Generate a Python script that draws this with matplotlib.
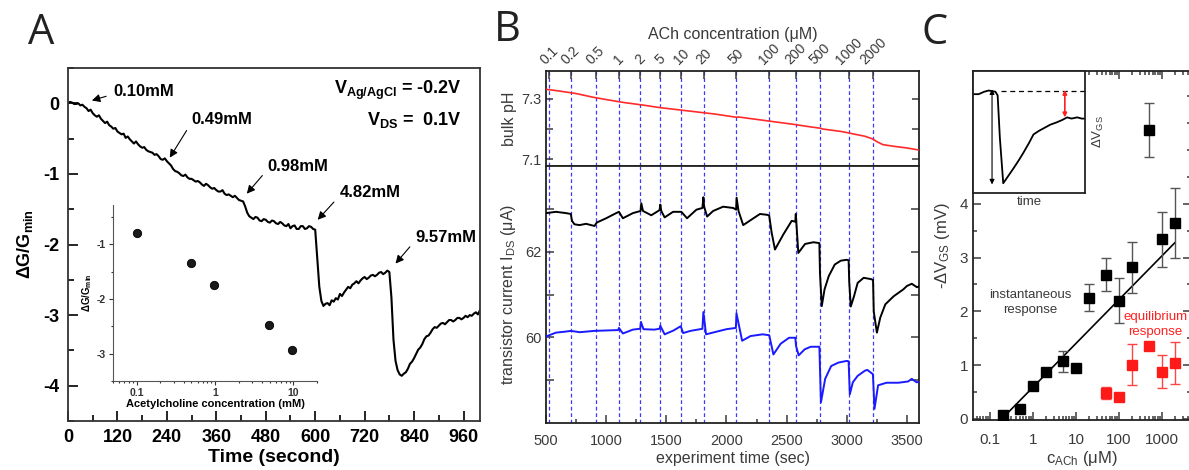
import numpy as np
import matplotlib
matplotlib.use('Agg')
import matplotlib.pyplot as plt
from matplotlib.ticker import MultipleLocator, FixedLocator, FixedFormatter, LogLocator, NullFormatter

plt.rcParams['font.family'] = ['Liberation Sans', 'DejaVu Sans']
plt.rcParams['axes.unicode_minus'] = False
plt.rcParams['mathtext.fontset'] = 'custom'
plt.rcParams['mathtext.rm'] = 'Liberation Sans'
plt.rcParams['mathtext.it'] = 'Liberation Sans:italic'
plt.rcParams['mathtext.bf'] = 'Liberation Sans:bold'

# ---------------- panel A data ----------------
time_a = np.arange(0, 1001, 5)
dg_a = [0.00, 0.02, 0.01, -0.01, -0.01, 0.00, -0.03, -0.02, -0.05, -0.07,
        -0.11, -0.09, -0.14, -0.17, -0.19, -0.17, -0.22, -0.25, -0.28, -0.26,
        -0.31, -0.33, -0.36, -0.35, -0.40, -0.42, -0.44, -0.43, -0.49, -0.47,
        -0.51, -0.54, -0.57, -0.54, -0.58, -0.61, -0.63, -0.62, -0.66, -0.68,
        -0.69, -0.70, -0.73, -0.72, -0.75, -0.79, -0.80, -0.78, -0.82, -0.85,
        -0.88, -0.93, -0.96, -0.97, -0.99, -1.02, -1.03, -1.01, -1.05, -1.07,
        -1.07, -1.09, -1.11, -1.10, -1.12, -1.15, -1.17, -1.14, -1.16, -1.19,
        -1.21, -1.20, -1.23, -1.25, -1.25, -1.23, -1.28, -1.30, -1.29, -1.31,
        -1.33, -1.31, -1.34, -1.37, -1.38, -1.39, -1.46, -1.55, -1.60, -1.62,
        -1.64, -1.61, -1.62, -1.66, -1.67, -1.64, -1.65, -1.68, -1.69, -1.66,
        -1.67, -1.70, -1.71, -1.68, -1.70, -1.73, -1.74, -1.71, -1.77, -1.74,
        -1.73, -1.78, -1.78, -1.74, -1.74, -1.78, -1.77, -1.74, -1.75, -1.78,
        -1.79, -2.20, -2.60, -2.80, -2.87, -2.84, -2.83, -2.86, -2.79, -2.81,
        -2.76, -2.78, -2.70, -2.73, -2.68, -2.64, -2.60, -2.62, -2.57, -2.55,
        -2.52, -2.55, -2.51, -2.48, -2.46, -2.49, -2.47, -2.44, -2.43, -2.45,
        -2.43, -2.40, -2.39, -2.42, -2.40, -2.37, -2.39, -2.75, -3.35, -3.65,
        -3.78, -3.84, -3.86, -3.83, -3.81, -3.76, -3.69, -3.66, -3.61, -3.55,
        -3.49, -3.46, -3.41, -3.34, -3.30, -3.29, -3.25, -3.20, -3.17, -3.18,
        -3.15, -3.12, -3.11, -3.13, -3.10, -3.07, -3.07, -3.09, -3.07, -3.04,
        -3.04, -3.06, -3.04, -3.01, -3.03, -3.00, -3.01, -2.98, -2.96, -2.99,
        -2.93]

arrow_labels = ['0.10mM', '0.49mM', '0.98mM', '4.82mM', '9.57mM']
arrow_tip_t = [58, 247, 434, 606, 795]
arrow_tip_v = [0.04, -0.77, -1.28, -1.65, -2.27]
arrow_txt_t = [109, 300, 485, 659, 843]
arrow_txt_v = [0.17, -0.23, -0.89, -1.27, -1.90]

inset_conc = [0.10, 0.49, 0.98, 4.82, 9.57]
inset_dg = [-0.80, -1.35, -1.75, -2.47, -2.93]

# ---------------- panel B data ----------------
add_times = [525, 705, 915, 1105, 1285, 1450, 1625, 1810, 2080, 2355, 2575, 2775, 3015, 3220]
conc_labels = ['0.1', '0.2', '0.5', '1', '2', '5', '10', '20', '50', '100', '200', '500', '1000', '2000']

ph_t = [500, 600, 750, 900, 1000, 1150, 1300, 1450, 1600, 1750, 1900, 2050, 2085, 2100, 2250,
        2400, 2550, 2700, 2775, 2800, 2950, 3015, 3050, 3150, 3215, 3250, 3300, 3400, 3500, 3600]
ph_v = [7.332, 7.327, 7.318, 7.305, 7.298, 7.288, 7.280, 7.271, 7.264, 7.257, 7.250, 7.241, 7.239, 7.240, 7.232,
        7.224, 7.216, 7.207, 7.203, 7.200, 7.192, 7.187, 7.184, 7.176, 7.167, 7.158, 7.148, 7.142, 7.137, 7.130]

blk_t = [500, 583, 667, 706, 716, 736, 778, 833, 903, 922,
         1000, 1083, 1106, 1139, 1222, 1286, 1292, 1306, 1375, 1444,
         1450, 1458, 1486, 1556, 1625, 1672, 1750, 1800, 1808, 1814,
         1839, 1889, 1972, 2056, 2080, 2084, 2100, 2139, 2208, 2278,
         2340, 2355, 2375, 2403, 2472, 2542, 2572, 2576, 2597, 2653,
         2722, 2772, 2777, 2792, 2815, 2850, 2900, 2950, 3000, 3015,
         3020, 3033, 3060, 3090, 3140, 3200, 3218, 3224, 3250, 3278,
         3320, 3390, 3470, 3500, 3540, 3583, 3600]
blk_v = [62.90, 62.93, 62.90, 62.88, 62.72, 62.64, 62.62, 62.65, 62.60, 62.68,
         62.78, 62.90, 62.93, 62.78, 62.90, 62.95, 63.13, 62.95, 62.85, 62.97,
         63.10, 62.95, 62.80, 62.93, 62.93, 62.78, 62.98, 63.02, 63.27, 63.05,
         62.82, 62.95, 63.05, 63.02, 62.98, 63.26, 62.95, 62.62, 62.75, 62.88,
         62.86, 62.84, 62.45, 62.05, 62.40, 62.72, 62.70, 62.88, 61.97, 62.18,
         62.22, 62.20, 61.50, 60.73, 61.12, 61.43, 61.70, 61.79, 61.81, 61.80,
         61.30, 60.72, 60.96, 61.27, 61.39, 61.36, 61.34, 60.60, 60.11, 60.46,
         60.77, 60.96, 61.12, 61.20, 61.25, 61.17, 61.19]

blu_t = [500, 583, 650, 708, 780, 900, 1000, 1100, 1106, 1139,
         1222, 1283, 1289, 1310, 1400, 1444, 1450, 1486, 1560, 1620,
         1640, 1700, 1800, 1808, 1830, 1900, 2000, 2078, 2083, 2130,
         2200, 2300, 2355, 2390, 2450, 2520, 2572, 2578, 2600, 2650,
         2700, 2772, 2785, 2820, 2870, 2930, 3000, 3015, 3025, 3050,
         3090, 3150, 3170, 3217, 3230, 3260, 3330, 3430, 3510, 3540,
         3580, 3600]
blu_v = [60.02, 60.11, 60.13, 60.15, 60.12, 60.15, 60.16, 60.17, 60.22, 60.09,
         60.18, 60.20, 60.36, 60.19, 60.18, 60.20, 60.27, 60.07, 60.16, 60.26,
         60.10, 60.15, 60.20, 60.59, 60.07, 60.12, 60.19, 60.22, 60.56, 59.92,
         60.03, 60.07, 60.05, 59.60, 59.85, 59.99, 59.99, 59.80, 59.58, 59.72,
         59.78, 59.78, 58.48, 59.03, 59.33, 59.41, 59.45, 59.44, 58.67, 58.95,
         59.10, 59.22, 59.24, 59.14, 58.33, 58.88, 58.94, 58.94, 58.97, 59.03,
         58.95, 58.96]

# ---------------- panel C data ----------------
c_inst = [0.2, 0.5, 1, 2, 5, 10, 20, 50, 100, 200, 500, 1000, 2000]
v_inst = [0.08, 0.18, 0.61, 0.88, 1.07, 0.94, 2.25, 2.68, 2.20, 2.82, 5.38, 3.34, 3.65]
e_inst = [0.0, 0.0, 0.0, 0.0, 0.19, 0.0, 0.25, 0.31, 0.42, 0.47, 0.50, 0.51, 0.65]

c_eq = [50, 100, 200, 500, 1000, 2000]
v_eq = [0.48, 0.40, 1.01, 1.35, 0.88, 1.04]
e_eq = [0.11, 0.0, 0.38, 0.07, 0.31, 0.39]

fit_c = [0.25, 2000]
fit_v = [0.10, 3.28]

sketch_t = [0.00, 0.05, 0.10, 0.14, 0.20, 0.22, 0.24, 0.27, 0.30, 0.36, 0.41, 0.45,
            0.50, 0.54, 0.59, 0.63, 0.69, 0.75, 0.80, 0.84, 0.88, 0.93, 0.97, 1.00]
sketch_v = [0.81, 0.81, 0.83, 0.84, 0.83, 0.80, 0.45, 0.08, 0.12, 0.20, 0.27, 0.33,
            0.41, 0.48, 0.51, 0.53, 0.56, 0.58, 0.60, 0.62, 0.61, 0.62, 0.61, 0.61]

W, H = 1189, 470
fig = plt.figure(figsize=(W / 100, H / 100), dpi=100)


def box(l, t, r, b):
    return [l / W, 1 - b / H, (r - l) / W, (b - t) / H]


GRAY = '#3a3a3a'

# ================= panel A =================
axA = fig.add_axes(box(68, 68, 480, 421))
axA.plot(time_a, dg_a, color='black', lw=1.5)
axA.set_xlim(0, 1000)
axA.set_ylim(-4.5, 0.5)
axA.set_xticks(range(0, 961, 120))
axA.xaxis.set_minor_locator(MultipleLocator(60))
axA.set_yticks([0, -1, -2, -3, -4])
axA.yaxis.set_minor_locator(MultipleLocator(0.5))
axA.tick_params(which='both', direction='in', width=1.2, labelsize=13, pad=6)
axA.tick_params(which='major', length=7)
axA.tick_params(which='minor', length=4)
for lab in axA.get_xticklabels() + axA.get_yticklabels():
    lab.set_fontweight('bold')
for sp in axA.spines.values():
    sp.set_color('#333333')
    sp.set_linewidth(1.3)
axA.set_xlabel('Time (second)', fontsize=14, fontweight='bold')
axA.xaxis.set_label_coords(0.5, -0.078)
axA.set_ylabel('ΔG/G$_{\\mathbf{min}}$', fontsize=13, fontweight='bold')
axA.yaxis.set_label_coords(-0.08, 0.5)

for lab, tt, tv, xt, xv in zip(arrow_labels, arrow_tip_t, arrow_tip_v, arrow_txt_t, arrow_txt_v):
    axA.annotate(lab, xy=(tt, tv), xytext=(xt, xv), fontsize=12, fontweight='bold',
                 ha='left', va='center',
                 arrowprops=dict(arrowstyle='-|>', color='black', lw=0.8, mutation_scale=12,
                                 relpos=(0, 0.3), shrinkA=3, shrinkB=0))

axA.text(955, 0.18, '$\\mathbf{V_{Ag/AgCl}}$ = -0.2V', fontsize=13, fontweight='bold', ha='right', va='center')
axA.text(955, -0.23, '$\\mathbf{V_{DS}}$ =  0.1V', fontsize=13, fontweight='bold', ha='right', va='center')

# inset of A
axAi = fig.add_axes(box(113, 205, 317, 381))
axAi.patch.set_alpha(0)
axAi.plot(inset_conc, inset_dg, 'o', ms=6, mfc='#1a1a1a', mec='black', mew=0.6)
axAi.set_xscale('log')
axAi.set_xlim(0.05, 20)
axAi.set_ylim(-3.5, -0.28)
axAi.xaxis.set_major_locator(FixedLocator([0.1, 1, 10]))
axAi.xaxis.set_major_formatter(FixedFormatter(['0.1', '1', '10']))
axAi.xaxis.set_minor_locator(LogLocator(base=10, subs=np.arange(2, 10)))
axAi.xaxis.set_minor_formatter(NullFormatter())
axAi.set_yticks([-1, -2, -3])
axAi.yaxis.set_minor_locator(MultipleLocator(0.5))
axAi.tick_params(which='both', direction='out', width=0.8, labelsize=7.5, pad=2, colors='#333333')
axAi.tick_params(which='major', length=3)
axAi.tick_params(which='minor', length=1.5)
for lab in axAi.get_xticklabels() + axAi.get_yticklabels():
    lab.set_fontweight('bold')
axAi.spines['top'].set_visible(False)
axAi.spines['right'].set_visible(False)
for sp in ('left', 'bottom'):
    axAi.spines[sp].set_color('#555555')
    axAi.spines[sp].set_linewidth(0.8)
axAi.set_xlabel('Acetylcholine concentration (mM)', fontsize=8, fontweight='bold', labelpad=1)
axAi.set_ylabel('ΔG/G$_{\\mathbf{min}}$', fontsize=7, fontweight='bold', labelpad=2)

# ================= panel B =================
axBp = fig.add_axes(box(546, 71, 919, 166))
axBi = fig.add_axes(box(546, 166, 919, 423))
for ax in (axBp, axBi):
    for t in add_times:
        ax.axvline(t, color='#3b3bff', ls=(0, (3, 2.2)), lw=0.9, zorder=1)
    ax.set_xlim(500, 3600)
    for sp in ax.spines.values():
        sp.set_color('#222222')
        sp.set_linewidth(1.3)

axBp.plot(ph_t, ph_v, color='#ff2a2a', lw=1.2, zorder=3)
axBp.set_ylim(7.077, 7.393)
axBp.set_yticks([7.1, 7.2, 7.3])
axBp.set_yticklabels(['7.1', '', '7.3'])
axBp.xaxis.tick_top()
axBp.set_xticks(add_times)
axBp.set_xticklabels(conc_labels, rotation=45, ha='center', va='bottom')
axBp.tick_params(axis='x', direction='in', length=6, width=1.1, labelsize=10, pad=3, colors=GRAY)
axBp.tick_params(axis='y', direction='in', length=5, width=1.1, labelsize=10.5, right=True, colors=GRAY)
axBp.set_ylabel('bulk pH', fontsize=11.5, color=GRAY)
axBp.yaxis.set_label_coords(-0.078, 0.5)
axBp.text(0.5, 1.38, 'ACh concentration (μM)', transform=axBp.transAxes,
          ha='center', va='center', fontsize=11.5, color=GRAY)

axBi.plot(blk_t, blk_v, color='black', lw=1.4, zorder=3)
axBi.plot(blu_t, blu_v, color='#1a1aff', lw=1.4, zorder=3)
axBi.set_ylim(58, 64)
axBi.set_yticks([59, 60, 61, 62, 63])
axBi.set_yticklabels(['', '60', '', '62', ''])
axBi.set_xticks(range(500, 3501, 500))
axBi.xaxis.set_minor_locator(MultipleLocator(250))
axBi.tick_params(which='both', direction='in', width=1.1, labelsize=10.5, colors=GRAY, right=True)
axBi.tick_params(axis='x', pad=8)
axBi.tick_params(which='major', length=6)
axBi.tick_params(which='minor', length=3)
axBi.set_ylabel('transistor current I$_{\\rm DS}$ (μA)', fontsize=11.5, color=GRAY)
axBi.yaxis.set_label_coords(-0.075, 0.5)
axBi.set_xlabel('experiment time (sec)', fontsize=11.5, color=GRAY)
axBi.xaxis.set_label_coords(0.5, -0.11)

# ================= panel C =================
axC = fig.add_axes(box(973, 71, 1191, 420))
axC.errorbar(c_inst, v_inst, yerr=e_inst, fmt='s', ms=7, color='black', ecolor='#555555',
             elinewidth=1, capsize=3.5, capthick=1, zorder=3)
axC.errorbar(c_eq, v_eq, yerr=e_eq, fmt='s', ms=7, color='#ff1a1a', ecolor='#ff4444',
             elinewidth=1, capsize=3.5, capthick=1, zorder=3)
axC.plot(fit_c, fit_v, color='black', lw=1.2, zorder=2)
axC.set_xscale('log')
axC.set_xlim(0.0403, 4700)
axC.set_ylim(-0.02, 6.47)
axC.xaxis.set_major_locator(FixedLocator([0.1, 1, 10, 100, 1000]))
axC.xaxis.set_major_formatter(FixedFormatter(['0.1', '1', '10', '100', '1000']))
axC.xaxis.set_minor_locator(LogLocator(base=10, subs=np.arange(2, 10), numticks=20))
axC.xaxis.set_minor_formatter(NullFormatter())
axC.set_yticks([0, 1, 2, 3, 4])
axC.yaxis.set_minor_locator(MultipleLocator(0.5))
axC.tick_params(which='both', direction='in', width=1.1, labelsize=11, colors=GRAY,
                top=True, right=True)
axC.tick_params(axis='x', pad=9)
axC.tick_params(which='major', length=6)
axC.tick_params(which='minor', length=3)
for sp in axC.spines.values():
    sp.set_color('#222222')
    sp.set_linewidth(1.3)
axC.set_xlabel('c$_{\\rm ACh}$ (μM)', fontsize=12, color=GRAY)
axC.xaxis.set_label_coords(0.5, -0.083)
axC.set_ylabel('-ΔV$_{\\rm GS}$ (mV)', fontsize=12, color=GRAY)
axC.yaxis.set_label_coords(-0.095, 0.5)
axC.text(0.85, 2.16, 'instantaneous\nresponse', ha='center', va='center', fontsize=9.5,
         color=GRAY, linespacing=1.3)
axC.text(690, 1.76, 'equilibrium\nresponse', ha='center', va='center', fontsize=9.5,
         color='#ff2020', linespacing=1.3)

# sketch inset of C
axCi = fig.add_axes(box(973, 71, 1085, 193), zorder=5)
axCi.set_facecolor('white')
axCi.plot(sketch_t, sketch_v, color='black', lw=1.3)
axCi.plot([0.25, 1.0], [0.84, 0.84], color='black', ls=(0, (4, 3)), lw=0.9)
axCi.annotate('', xy=(0.17, 0.07), xytext=(0.17, 0.85),
              arrowprops=dict(arrowstyle='<|-|>', color='black', lw=0.8, mutation_scale=7,
                              shrinkA=0, shrinkB=0))
axCi.annotate('', xy=(0.82, 0.62), xytext=(0.82, 0.845),
              arrowprops=dict(arrowstyle='<|-|>', color='#ff2020', lw=1.2, mutation_scale=6,
                              shrinkA=0, shrinkB=0))
axCi.set_xlim(0, 1)
axCi.set_ylim(0, 1)
axCi.set_xticks([])
axCi.set_yticks([])
for sp in axCi.spines.values():
    sp.set_color('#222222')
    sp.set_linewidth(1.3)
axCi.set_xlabel('time', fontsize=9.5, color=GRAY, labelpad=2)
axCi.yaxis.set_label_position('right')
axCi.set_ylabel('ΔV$_{\\rm GS}$', fontsize=9.5, color=GRAY, labelpad=4)

# panel letters
for letter, px, py in (('A', 41, 33), ('B', 507, 30), ('C', 935, 33)):
    fig.text(px / W, 1 - py / H, letter, fontsize=30, ha='center', va='center',
             family=['Open Sans', 'DejaVu Sans'], color='#222222')

fig.savefig('out.png', dpi=100)
